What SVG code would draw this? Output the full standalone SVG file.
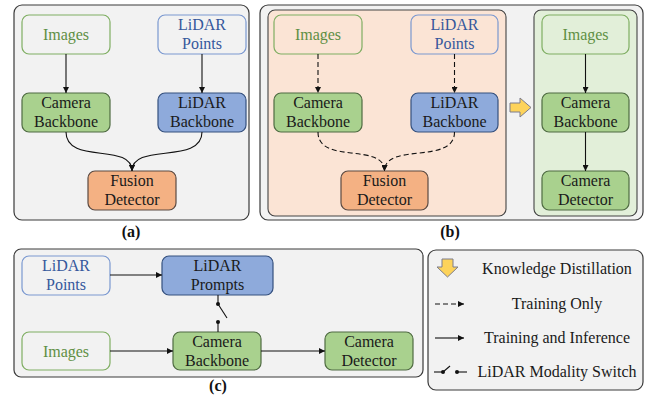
<svg xmlns="http://www.w3.org/2000/svg" width="651" height="395" viewBox="0 0 651 395">
<defs>
<marker id="ah" markerUnits="userSpaceOnUse" markerWidth="7" markerHeight="6" refX="6" refY="3" orient="auto">
<path d="M0,0 L6,3 L0,6 z" fill="#111"/>
</marker>
<style>
.panel{fill:#f2f2f2;stroke:#3a3a3a;stroke-width:1.2}
.img{fill:none;stroke:#7fae62;stroke-width:1.2}
.pts{fill:none;stroke:#7a98d0;stroke-width:1.2}
.cam{fill:#a9d18e;stroke:#4f6b42;stroke-width:1.2}
.lid{fill:#8eaadb;stroke:#34507e;stroke-width:1.2}
.fus{fill:#f4b183;stroke:#5b4a42;stroke-width:1.2}
.c{fill:none;stroke:#111;stroke-width:1.1}
.d{fill:none;stroke:#111;stroke-width:1.1;stroke-dasharray:5,3}
.ya{fill:#fdd35a;stroke:#7d7d8c;stroke-width:1}
</style>
</defs>
<!-- panels -->
<rect class="panel" x="14" y="5" width="235" height="215" rx="8"/>
<rect class="panel" x="260" y="5" width="383" height="215" rx="8"/>
<rect x="268" y="10" width="238" height="206" rx="7" fill="#fbe4d5" stroke="#444" stroke-width="1.1"/>
<rect x="534" y="10" width="103" height="206" rx="7" fill="#e2efd9" stroke="#444" stroke-width="1.1"/>
<rect class="panel" x="14" y="249" width="409" height="128" rx="7"/>
<rect class="panel" x="428" y="250" width="215" height="140" rx="8"/>

<g font-size="16" text-anchor="middle" fill="#111" font-weight="bold">
<text font-family="Liberation Serif" x="131" y="237">(a)</text>
<text font-family="Liberation Serif" x="450" y="237">(b)</text>
<text font-family="Liberation Serif" x="218" y="391">(c)</text>
</g>

<g font-size="16" text-anchor="middle" fill="#1a1a1a">
<!-- (a) nodes -->
<g id="a-images"><rect class="img" x="22" y="15" width="88" height="39" rx="7"/><text font-family="Liberation Serif" fill="#5f8f44" x="66" y="40">Images</text></g>
<g id="a-lidar-points"><rect class="pts" x="158" y="15" width="88" height="39" rx="7"/><text font-family="Liberation Serif" fill="#35589c" x="202" y="30">LiDAR</text><text font-family="Liberation Serif" fill="#35589c" x="202" y="49">Points</text></g>
<g id="a-camera-backbone"><rect class="cam" x="22" y="93" width="88" height="39" rx="7"/><text font-family="Liberation Serif" x="66" y="108">Camera</text><text font-family="Liberation Serif" x="66" y="127">Backbone</text></g>
<g id="a-lidar-backbone"><rect class="lid" x="158" y="93" width="88" height="39" rx="7"/><text font-family="Liberation Serif" x="202" y="108">LiDAR</text><text font-family="Liberation Serif" x="202" y="127">Backbone</text></g>
<g id="a-fusion-detector"><rect class="fus" x="88" y="171" width="88" height="39" rx="7"/><text font-family="Liberation Serif" x="132" y="186">Fusion</text><text font-family="Liberation Serif" x="132" y="205">Detector</text></g>

<!-- (b) nodes -->
<g id="b-images"><rect class="img" x="274" y="15" width="88" height="39" rx="7"/><text font-family="Liberation Serif" fill="#5f8f44" x="318" y="40">Images</text></g>
<g id="b-lidar-points"><rect class="pts" x="411" y="15" width="87" height="39" rx="7"/><text font-family="Liberation Serif" fill="#35589c" x="454.5" y="30">LiDAR</text><text font-family="Liberation Serif" fill="#35589c" x="454.5" y="49">Points</text></g>
<g id="b-camera-backbone"><rect class="cam" x="274" y="93" width="88" height="39" rx="7"/><text font-family="Liberation Serif" x="318" y="108">Camera</text><text font-family="Liberation Serif" x="318" y="127">Backbone</text></g>
<g id="b-lidar-backbone"><rect class="lid" x="411" y="93" width="87" height="39" rx="7"/><text font-family="Liberation Serif" x="454.5" y="108">LiDAR</text><text font-family="Liberation Serif" x="454.5" y="127">Backbone</text></g>
<g id="b-fusion-detector"><rect class="fus" x="341" y="171" width="87" height="39" rx="7"/><text font-family="Liberation Serif" x="384.5" y="186">Fusion</text><text font-family="Liberation Serif" x="384.5" y="205">Detector</text></g>
<g id="b-student-images"><rect class="img" x="542" y="15" width="87" height="39" rx="7"/><text font-family="Liberation Serif" fill="#5f8f44" x="585.5" y="40">Images</text></g>
<g id="b-student-backbone"><rect class="cam" x="542" y="93" width="87" height="39" rx="7"/><text font-family="Liberation Serif" x="585.5" y="108">Camera</text><text font-family="Liberation Serif" x="585.5" y="127">Backbone</text></g>
<g id="b-camera-detector"><rect class="cam" x="542" y="171" width="87" height="39" rx="7"/><text font-family="Liberation Serif" x="585.5" y="186">Camera</text><text font-family="Liberation Serif" x="585.5" y="205">Detector</text></g>
<g id="b-distill-arrow"><path class="ya" d="M510,103 L520,103 L520,98 L531,107.5 L520,117 L520,112 L510,112 z"/></g>

<!-- (c) nodes -->
<g id="c-lidar-points"><rect class="pts" x="22" y="256" width="88" height="39" rx="7"/><text font-family="Liberation Serif" fill="#35589c" x="66" y="271">LiDAR</text><text font-family="Liberation Serif" fill="#35589c" x="66" y="290">Points</text></g>
<g id="c-lidar-prompts"><rect class="lid" x="162" y="256" width="111" height="39" rx="7"/><text font-family="Liberation Serif" x="217.5" y="271">LiDAR</text><text font-family="Liberation Serif" x="217.5" y="290">Prompts</text></g>
<g id="c-images"><rect class="img" x="22" y="332" width="88" height="38" rx="7"/><text font-family="Liberation Serif" fill="#5f8f44" x="66" y="357">Images</text></g>
<g id="c-camera-backbone"><rect class="cam" x="173" y="332" width="88" height="38" rx="7"/><text font-family="Liberation Serif" x="217" y="347">Camera</text><text font-family="Liberation Serif" x="217" y="366">Backbone</text></g>
<g id="c-camera-detector"><rect class="cam" x="325" y="332" width="88" height="38" rx="7"/><text font-family="Liberation Serif" x="369" y="347">Camera</text><text font-family="Liberation Serif" x="369" y="366">Detector</text></g>

<!-- legend -->
<g id="legend">
<path class="ya" d="M442,259 L453,259 L453,267 L458,267 L447.5,277 L437,267 L442,267 z"/>
<text font-family="Liberation Serif" x="557" y="274">Knowledge Distillation</text>
<line class="d" x1="435" y1="304" x2="464" y2="304" marker-end="url(#ah)"/>
<text font-family="Liberation Serif" x="557" y="309">Training Only</text>
<line class="c" x1="435" y1="338" x2="464" y2="338" marker-end="url(#ah)"/>
<text font-family="Liberation Serif" x="557" y="343">Training and Inference</text>
<line class="c" x1="434" y1="372" x2="443" y2="372"/>
<circle cx="443" cy="372" r="2" fill="#111"/>
<line class="c" x1="443" y1="372" x2="450" y2="366"/>
<circle cx="457" cy="372" r="2" fill="#111"/>
<line class="c" x1="457" y1="372" x2="467" y2="372"/>
<text font-family="Liberation Serif" x="557" y="377">LiDAR Modality Switch</text>
</g>
</g>

<!-- connectors -->
<g id="connectors">
<line class="c" x1="66" y1="54" x2="66" y2="93" marker-end="url(#ah)"/>
<line class="c" x1="202" y1="54" x2="202" y2="93" marker-end="url(#ah)"/>
<path class="c" d="M66,132 C66,165 132,142 132,171" marker-end="url(#ah)"/>
<path class="c" d="M202,132 C202,165 132,142 132,171" marker-end="url(#ah)"/>
<line class="d" x1="318" y1="54" x2="318" y2="93" marker-end="url(#ah)"/>
<line class="d" x1="454.5" y1="54" x2="454.5" y2="93" marker-end="url(#ah)"/>
<path class="d" d="M318,132 C318,165 384.5,142 384.5,171" marker-end="url(#ah)"/>
<path class="d" d="M454.5,132 C454.5,165 384.5,142 384.5,171" marker-end="url(#ah)"/>
<line class="c" x1="585.5" y1="54" x2="585.5" y2="93" marker-end="url(#ah)"/>
<line class="c" x1="585.5" y1="132" x2="585.5" y2="171" marker-end="url(#ah)"/>
<line class="c" x1="110" y1="275" x2="162" y2="275" marker-end="url(#ah)"/>
<line class="c" x1="110" y1="351" x2="173" y2="351" marker-end="url(#ah)"/>
<line class="c" x1="261" y1="351" x2="325" y2="351" marker-end="url(#ah)"/>
<line class="c" x1="218" y1="295" x2="218" y2="304"/>
<circle cx="218" cy="304" r="2" fill="#111"/>
<line class="c" x1="218" y1="304" x2="227" y2="318"/>
<circle cx="218" cy="322" r="2" fill="#111"/>
<line class="c" x1="218" y1="322" x2="218" y2="332"/>
</g>
</svg>
